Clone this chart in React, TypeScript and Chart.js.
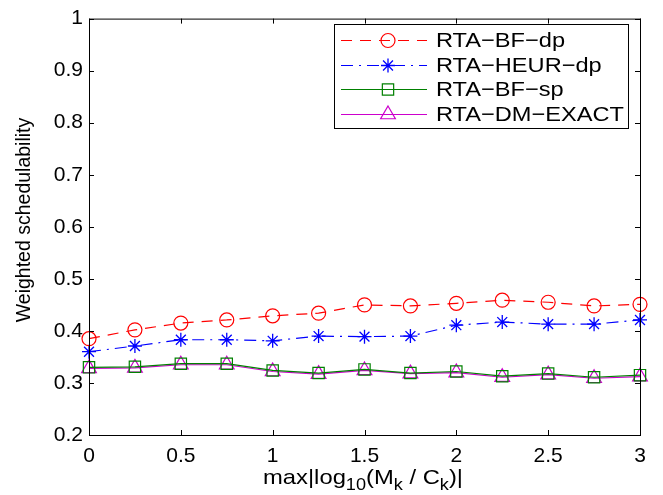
import React, { useEffect, useRef } from "react";
import { Chart, registerables } from "chart.js";

Chart.register(...registerables);

const xValues = [0, 0.25, 0.5, 0.75, 1, 1.25, 1.5, 1.75, 2, 2.25, 2.5, 2.75, 3];
const bfDp = [0.385, 0.402, 0.415, 0.421, 0.429, 0.434, 0.45, 0.448, 0.453, 0.459, 0.455, 0.448, 0.451];
const heurDp = [0.36, 0.371, 0.383, 0.383, 0.381, 0.39, 0.389, 0.39, 0.411, 0.417, 0.413, 0.413, 0.421];
const bfSp = [0.33, 0.331, 0.337, 0.337, 0.324, 0.319, 0.326, 0.319, 0.322, 0.313, 0.318, 0.311, 0.315];
const dmExact = [0.328, 0.329, 0.335, 0.335, 0.322, 0.317, 0.324, 0.318, 0.32, 0.311, 0.316, 0.309, 0.312];
const seriesNames = ["RTA\u2212BF\u2212dp", "RTA\u2212HEUR\u2212dp", "RTA\u2212BF\u2212sp", "RTA\u2212DM\u2212EXACT"];
const yTitle = "Weighted schedulability";
const xTitleParts: [string, boolean][] = [
  ["max|log", false], ["10", true], ["(M", false], ["k", true], [" / C", false], ["k", true], [")|", false],
];

const FONT = "'Liberation Sans', Arial, Helvetica, sans-serif";

function drawMarker(ctx: CanvasRenderingContext2D, style: string, x: number, y: number, r: number) {
  ctx.beginPath();
  if (style === "circle") {
    ctx.arc(x, y, r, 0, Math.PI * 2);
  } else if (style === "rect") {
    const s = Math.SQRT1_2 * r;
    ctx.rect(x - s, y - s, 2 * s, 2 * s);
  } else if (style === "triangle") {
    ctx.moveTo(x, y - r);
    ctx.lineTo(x + r * Math.sin(Math.PI / 3), y + r * 0.5);
    ctx.lineTo(x - r * Math.sin(Math.PI / 3), y + r * 0.5);
    ctx.closePath();
  } else if (style === "star") {
    for (let k = 0; k < 4; k++) {
      const ang = (k * Math.PI) / 4;
      ctx.moveTo(x + Math.sin(ang) * r, y - Math.cos(ang) * r);
      ctx.lineTo(x - Math.sin(ang) * r, y + Math.cos(ang) * r);
    }
  }
  ctx.stroke();
}

const framePlugin = {
  id: "frame",
  afterDraw(chart: any) {
    const { ctx, chartArea: a, scales } = chart;
    ctx.save();
    ctx.strokeStyle = "#000";
    ctx.lineWidth = 1;
    ctx.strokeRect(a.left + 0.5, a.top + 0.5, a.right - a.left, a.bottom - a.top);
    const L = 5;
    ctx.beginPath();
    scales.x.ticks.forEach((t: any) => {
      const px = Math.round(scales.x.getPixelForValue(t.value)) + 0.5;
      ctx.moveTo(px, a.bottom);
      ctx.lineTo(px, a.bottom - L);
      ctx.moveTo(px, a.top);
      ctx.lineTo(px, a.top + L);
    });
    scales.y.ticks.forEach((t: any) => {
      const py = Math.round(scales.y.getPixelForValue(t.value)) + 0.5;
      ctx.moveTo(a.left, py);
      ctx.lineTo(a.left + L, py);
      ctx.moveTo(a.right, py);
      ctx.lineTo(a.right - L, py);
    });
    ctx.stroke();

    // x title with subscripts
    const big = `21px ${FONT}`;
    const small = `16px ${FONT}`;
    let total = 0;
    xTitleParts.forEach(([s, sub]) => {
      ctx.font = sub ? small : big;
      total += ctx.measureText(s).width;
    });
    const targetW = 200;
    const sx = targetW / total;
    const cx = 363;
    const base = 484;
    ctx.save();
    ctx.translate(cx - targetW / 2, base);
    ctx.scale(sx, 1);
    let x = 0;
    ctx.fillStyle = "#000";
    ctx.textBaseline = "alphabetic";
    ctx.textAlign = "left";
    xTitleParts.forEach(([s, sub]) => {
      ctx.font = sub ? small : big;
      ctx.fillText(s, x, sub ? 6 : 0);
      x += ctx.measureText(s).width;
    });
    ctx.restore();

    // y title
    ctx.save();
    ctx.translate(25, 220);
    ctx.rotate(-Math.PI / 2);
    ctx.font = `19.5px ${FONT}`;
    ctx.textAlign = "center";
    ctx.textBaseline = "middle";
    ctx.fillStyle = "#000";
    ctx.fillText(yTitle, 0, 0);
    ctx.restore();

    // legend
    const bx = 334, by = 24, bw = 294, bh = 104;
    ctx.fillStyle = "#fff";
    ctx.fillRect(bx, by, bw, bh);
    ctx.strokeStyle = "#000";
    ctx.lineWidth = 1;
    ctx.strokeRect(bx + 0.5, by + 0.5, bw, bh);
    ctx.font = `21px ${FONT}`;
    const lw = ctx.measureText(seriesNames[3]).width;
    const lsx = Math.min(1.2, 188 / lw);
    chart.data.datasets.forEach((ds: any, i: number) => {
      const ry = Math.round(40 + i * 24.5) + 0.5;
      ctx.save();
      ctx.strokeStyle = ds.borderColor;
      ctx.lineWidth = ds.borderWidth;
      ctx.setLineDash(ds.borderDash || []);
      ctx.beginPath();
      ctx.moveTo(341, ry);
      ctx.lineTo(427, ry);
      ctx.stroke();
      ctx.setLineDash([]);
      ctx.strokeStyle = ds.pointBorderColor;
      ctx.lineWidth = ds.pointBorderWidth;
      drawMarker(ctx, ds.pointStyle, 388, ry, ds.pointRadius);
      ctx.restore();
      ctx.save();
      ctx.translate(436, ry + 1);
      ctx.scale(lsx, 1);
      ctx.fillStyle = "#000";
      ctx.font = `21px ${FONT}`;
      ctx.textAlign = "left";
      ctx.textBaseline = "middle";
      ctx.fillText(ds.label, 0, 0);
      ctx.restore();
    });
    ctx.restore();
  },
};

export default function App() {
  const ref = useRef<HTMLCanvasElement>(null);
  useEffect(() => {
    document.body.style.margin = "0";
    const mk = (vals: number[]) => xValues.map((x, i) => ({ x, y: vals[i] }));
    const chart = new Chart(ref.current!, {
      type: "line",
      data: {
        datasets: [
          { label: seriesNames[0], data: mk(bfDp), borderColor: "#ff0000", borderDash: [11, 8], pointStyle: "circle", pointRadius: 7, pointBorderColor: "#ff0000", pointBackgroundColor: "rgba(0,0,0,0)", borderWidth: 1.2, pointBorderWidth: 1.2 },
          { label: seriesNames[1], data: mk(heurDp), borderColor: "#0000ff", borderDash: [12, 6, 2, 6], pointStyle: "star", pointRadius: 7, pointBorderColor: "#0000ff", pointBackgroundColor: "rgba(0,0,0,0)", borderWidth: 1.2, pointBorderWidth: 1.3 },
          { label: seriesNames[2], data: mk(bfSp), borderColor: "#008000", pointStyle: "rect", pointRadius: 8, pointBorderColor: "#008000", pointBackgroundColor: "rgba(0,0,0,0)", borderWidth: 1.2, pointBorderWidth: 1.2 },
          { label: seriesNames[3], data: mk(dmExact), borderColor: "#cc00cc", pointStyle: "triangle", pointRadius: 8.5, pointBorderColor: "#cc00cc", pointBackgroundColor: "rgba(0,0,0,0)", borderWidth: 1.2, pointBorderWidth: 1.2 },
        ] as any,
      },
      options: {
        animation: false,
        responsive: false,
        layout: { padding: { left: 0, right: 23, top: 15, bottom: 0 } },
        plugins: { legend: { display: false }, tooltip: { enabled: false } },
        elements: { line: { tension: 0 } },
        datasets: { line: { clip: false } } as any,
        scales: {
          x: {
            type: "linear",
            min: 0,
            max: 3,
            ticks: {
              stepSize: 0.5, color: "#000", font: { family: FONT, size: 21 }, padding: 9, maxRotation: 0,
              callback: (v: any) => String(Math.round(Number(v) * 10) / 10),
            },
            grid: { display: false, drawTicks: false },
            border: { display: false },
            afterFit: (s: any) => { s.height = 60; },
          },
          y: {
            min: 0.2,
            max: 1,
            ticks: {
              stepSize: 0.1, color: "#000", font: { family: FONT, size: 21 }, padding: 6,
              callback: (v: any) => String(Math.round(Number(v) * 10) / 10),
            },
            grid: { display: false, drawTicks: false },
            border: { display: false },
            afterFit: (s: any) => { s.width = 89; },
          },
        },
      },
      plugins: [framePlugin],
    });
    return () => chart.destroy();
  }, []);
  return (
    <div style={{ width: 663, height: 495, background: "#fff" }}>
      <canvas ref={ref} width={663} height={495} />
    </div>
  );
}
